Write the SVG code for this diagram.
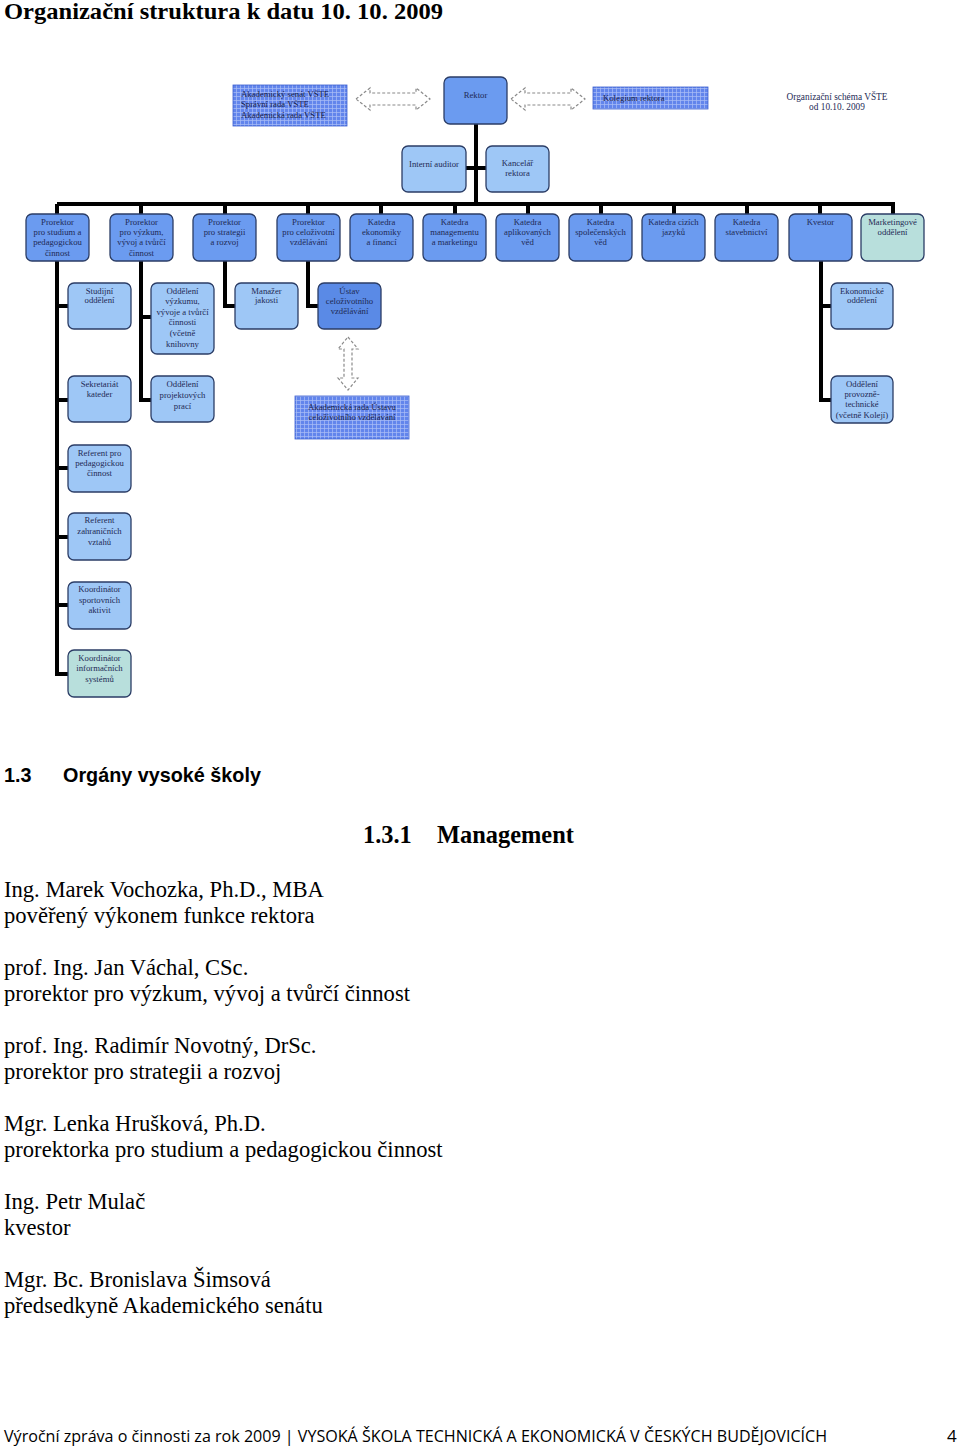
<svg xmlns="http://www.w3.org/2000/svg" width="960" height="1448" viewBox="0 0 960 1448">
<style>
.bg{fill:#ffffff}
.box{stroke:#2b3d66;stroke-width:1.3}
.b1{fill:#6b9bf0}
.b2{fill:#9ec7f6}
.b3{fill:#b8dfdc}
.b4{fill:#5a8ae6}
.grid{fill:url(#grid);stroke:#3c5fd0;stroke-width:0.8}
.t{font-family:"Liberation Serif","Times New Roman",serif;font-size:8.7px;fill:#1e2a55;text-anchor:middle}
.tl{font-family:"Liberation Serif","Times New Roman",serif;font-size:8.7px;fill:#16204a}
.con{stroke:#000;stroke-width:4;fill:none}
.dash{fill:#fff;stroke:#8a8a8a;stroke-width:1.2;stroke-dasharray:3 2}
.body{font-family:"Liberation Serif","Times New Roman",serif;font-size:22.6px;fill:#000}
.h1{font-family:"Liberation Serif","Times New Roman",serif;font-size:23px;font-weight:bold;fill:#000}
.h2{font-family:"Liberation Sans",Arial,sans-serif;font-size:19.8px;font-weight:bold;fill:#000}
.h3{font-family:"Liberation Serif","Times New Roman",serif;font-size:24.4px;font-weight:bold;fill:#000}
.foot{font-family:"Open Sans","Liberation Sans",sans-serif;font-size:17px;fill:#000}
</style>
<defs>
<pattern id="grid" width="4" height="4" patternUnits="userSpaceOnUse">
<rect width="4" height="4" fill="#6285ec"/>
<path d="M0,0.5 H4 M0.5,0 V4" stroke="#aabff7" stroke-width="0.7"/>
</pattern>
</defs>
<rect class="bg" x="0" y="0" width="960" height="1448"/>

<text class="h1" x="4" y="19" textLength="439" lengthAdjust="spacingAndGlyphs">Organizační struktura k datu 10. 10. 2009</text>

<g id="connectors">
<path class="con" d="M476,124 V204"/>
<path class="con" d="M466,168 H486"/>
<path class="con" d="M57,204 H895"/>
<path class="con" d="M57,204 V214 M141,204 V214 M225,204 V214 M308,204 V214 M381,204 V214 M455,204 V214 M528,204 V214 M601,204 V214 M674,204 V214 M747,204 V214 M820,204 V214 M893,204 V214"/>
<path class="con" d="M57,261 V674 H68 M57,306 H68 M57,400 H68 M57,468 H68 M57,537 H68 M57,605 H68"/>
<path class="con" d="M141,261 V400 H151 M141,317 H151"/>
<path class="con" d="M225,261 V306 H235"/>
<path class="con" d="M308,261 V306 H318"/>
<path class="con" d="M821,261 V400 H831 M821,306 H831"/>
<path class="dash" d="M356,99 L370,88 L370,93 L416,93 L416,88 L430,99 L416,110 L416,105 L370,105 L370,110 Z"/>
<path class="dash" d="M511,99 L525,88 L525,93 L571,93 L571,88 L585,99 L571,110 L571,105 L525,105 L525,110 Z"/>
<path class="dash" d="M348,337 L358,349 L352,349 L352,378 L358,378 L348,390 L338,378 L344,378 L344,349 L338,349 Z"/>
</g>

<g id="akademicky-senat">
<rect class="grid" x="233" y="85" width="114" height="41"/>
<text class="tl" x="241" y="97">Akademický senát VŠTE</text>
<text class="tl" x="241" y="107">Správní rada VŠTE</text>
<text class="tl" x="241" y="118">Akademická rada VŠTE</text>
</g>
<g id="rektor">
<rect class="box b1" x="444" y="77" width="63" height="47" rx="6"/>
<text class="t" x="475.5" y="98">Rektor</text>
</g>
<g id="kolegium">
<rect class="grid" x="593" y="87" width="115" height="22"/>
<text class="tl" x="603" y="101">Kolegium rektora</text>
</g>
<g id="schema-label">
<text class="t" x="837" y="100" style="font-size:9.3px">Organizační schéma VŠTE</text>
<text class="t" x="837" y="110" style="font-size:9.3px">od 10.10. 2009</text>
</g>
<g id="interni-auditor">
<rect class="box b2" x="402" y="146" width="64" height="46" rx="6"/>
<text class="t" x="434" y="167">Interní auditor</text>
</g>
<g id="kancelar">
<rect class="box b2" x="486" y="146" width="63" height="46" rx="6"/>
<text class="t" x="517.5" y="166">Kancelář</text>
<text class="t" x="517.5" y="176">rektora</text>
</g>

<g id="prorektor-studium">
<rect class="box b1" x="26" y="214" width="63" height="47" rx="6"/>
<text class="t" x="57.5" y="225">Prorektor</text>
<text class="t" x="57.5" y="235">pro studium a</text>
<text class="t" x="57.5" y="245">pedagogickou</text>
<text class="t" x="57.5" y="256">činnost</text>
</g>
<g id="prorektor-vyzkum">
<rect class="box b1" x="110" y="214" width="63" height="47" rx="6"/>
<text class="t" x="141.5" y="225">Prorektor</text>
<text class="t" x="141.5" y="235">pro výzkum,</text>
<text class="t" x="141.5" y="245">vývoj a tvůrčí</text>
<text class="t" x="141.5" y="256">činnost</text>
</g>
<g id="prorektor-strategie">
<rect class="box b1" x="193" y="214" width="63" height="47" rx="6"/>
<text class="t" x="224.5" y="225">Prorektor</text>
<text class="t" x="224.5" y="235">pro strategii</text>
<text class="t" x="224.5" y="245">a rozvoj</text>
</g>
<g id="prorektor-celozivotni">
<rect class="box b1" x="277" y="214" width="63" height="47" rx="6"/>
<text class="t" x="308.5" y="225">Prorektor</text>
<text class="t" x="308.5" y="235">pro celoživotní</text>
<text class="t" x="308.5" y="245">vzdělávání</text>
</g>
<g id="katedra-ekonomiky">
<rect class="box b1" x="350" y="214" width="63" height="47" rx="6"/>
<text class="t" x="381.5" y="225">Katedra</text>
<text class="t" x="381.5" y="235">ekonomiky</text>
<text class="t" x="381.5" y="245">a financí</text>
</g>
<g id="katedra-managementu">
<rect class="box b1" x="423" y="214" width="63" height="47" rx="6"/>
<text class="t" x="454.5" y="225">Katedra</text>
<text class="t" x="454.5" y="235">managementu</text>
<text class="t" x="454.5" y="245">a marketingu</text>
</g>
<g id="katedra-aplikovanych">
<rect class="box b1" x="496" y="214" width="63" height="47" rx="6"/>
<text class="t" x="527.5" y="225">Katedra</text>
<text class="t" x="527.5" y="235">aplikovaných</text>
<text class="t" x="527.5" y="245">věd</text>
</g>
<g id="katedra-spolecenskych">
<rect class="box b1" x="569" y="214" width="63" height="47" rx="6"/>
<text class="t" x="600.5" y="225">Katedra</text>
<text class="t" x="600.5" y="235">společenských</text>
<text class="t" x="600.5" y="245">věd</text>
</g>
<g id="katedra-jazyku">
<rect class="box b1" x="642" y="214" width="63" height="47" rx="6"/>
<text class="t" x="673.5" y="225">Katedra cizích</text>
<text class="t" x="673.5" y="235">jazyků</text>
</g>
<g id="katedra-stavebnictvi">
<rect class="box b1" x="715" y="214" width="63" height="47" rx="6"/>
<text class="t" x="746.5" y="225">Katedra</text>
<text class="t" x="746.5" y="235">stavebnictví</text>
</g>
<g id="kvestor">
<rect class="box b1" x="789" y="214" width="63" height="47" rx="6"/>
<text class="t" x="820.5" y="225">Kvestor</text>
</g>
<g id="marketingove">
<rect class="box b3" x="861" y="214" width="63" height="47" rx="6"/>
<text class="t" x="892.5" y="225">Marketingové</text>
<text class="t" x="892.5" y="235">oddělení</text>
</g>

<g id="studijni">
<rect class="box b2" x="68" y="283" width="63" height="46" rx="6"/>
<text class="t" x="99.5" y="294">Studijní</text>
<text class="t" x="99.5" y="303">oddělení</text>
</g>
<g id="sekretariat">
<rect class="box b2" x="68" y="376" width="63" height="46" rx="6"/>
<text class="t" x="99.5" y="387">Sekretariát</text>
<text class="t" x="99.5" y="397">kateder</text>
</g>
<g id="referent-pedagogicka">
<rect class="box b2" x="68" y="445" width="63" height="47" rx="6"/>
<text class="t" x="99.5" y="456">Referent pro</text>
<text class="t" x="99.5" y="466">pedagogickou</text>
<text class="t" x="99.5" y="476">činnost</text>
</g>
<g id="referent-zahranicni">
<rect class="box b2" x="68" y="513" width="63" height="47" rx="6"/>
<text class="t" x="99.5" y="523">Referent</text>
<text class="t" x="99.5" y="534">zahraničních</text>
<text class="t" x="99.5" y="545">vztahů</text>
</g>
<g id="koordinator-sport">
<rect class="box b2" x="68" y="582" width="63" height="47" rx="6"/>
<text class="t" x="99.5" y="592">Koordinátor</text>
<text class="t" x="99.5" y="603">sportovních</text>
<text class="t" x="99.5" y="613">aktivit</text>
</g>
<g id="koordinator-is">
<rect class="box b3" x="68" y="650" width="63" height="47" rx="6"/>
<text class="t" x="99.5" y="661">Koordinátor</text>
<text class="t" x="99.5" y="671">informačních</text>
<text class="t" x="99.5" y="682">systémů</text>
</g>
<g id="oddeleni-vyzkumu">
<rect class="box b2" x="151" y="283" width="63" height="71" rx="6"/>
<text class="t" x="182.5" y="294">Oddělení</text>
<text class="t" x="182.5" y="304">výzkumu,</text>
<text class="t" x="182.5" y="315">vývoje a tvůrčí</text>
<text class="t" x="182.5" y="325">činnosti</text>
<text class="t" x="182.5" y="336">(včetně</text>
<text class="t" x="182.5" y="347">knihovny</text>
</g>
<g id="oddeleni-projektovych">
<rect class="box b2" x="151" y="376" width="63" height="46" rx="6"/>
<text class="t" x="182.5" y="387">Oddělení</text>
<text class="t" x="182.5" y="398">projektových</text>
<text class="t" x="182.5" y="409">prací</text>
</g>
<g id="manazer-jakosti">
<rect class="box b2" x="235" y="283" width="63" height="46" rx="6"/>
<text class="t" x="266.5" y="294">Manažer</text>
<text class="t" x="266.5" y="303">jakosti</text>
</g>
<g id="ustav">
<rect class="box b4" x="318" y="283" width="63" height="46" rx="6"/>
<text class="t" x="349.5" y="294">Ústav</text>
<text class="t" x="349.5" y="304">celoživotního</text>
<text class="t" x="349.5" y="314">vzdělávání</text>
</g>
<g id="akademicka-rada-ustavu">
<rect class="grid" x="295" y="396" width="114" height="43"/>
<text class="t" x="352" y="410" style="fill:#16204a">Akademická rada Ústavu</text>
<text class="t" x="352" y="420" style="fill:#16204a">celoživotního vzdělávání</text>
</g>
<g id="ekonomicke">
<rect class="box b2" x="831" y="283" width="62" height="46" rx="6"/>
<text class="t" x="862" y="294">Ekonomické</text>
<text class="t" x="862" y="303">oddělení</text>
</g>
<g id="provozne-technicke">
<rect class="box b2" x="831" y="376" width="62" height="47" rx="6"/>
<text class="t" x="862" y="387">Oddělení</text>
<text class="t" x="862" y="397">provozně-</text>
<text class="t" x="862" y="407">technické</text>
<text class="t" x="862" y="418">(včetně Kolejí)</text>
</g>

<text class="h2" x="4" y="782">1.3</text>
<text class="h2" x="63" y="782">Orgány vysoké školy</text>
<text class="h3" x="363" y="843">1.3.1</text>
<text class="h3" x="437" y="843">Management</text>

<text class="body" x="4" y="897">Ing. Marek Vochozka, Ph.D., MBA</text>
<text class="body" x="4" y="923">pověřený výkonem funkce rektora</text>
<text class="body" x="4" y="975">prof. Ing. Jan Váchal, CSc.</text>
<text class="body" x="4" y="1001">prorektor pro výzkum, vývoj a tvůrčí činnost</text>
<text class="body" x="4" y="1053">prof. Ing. Radimír Novotný, DrSc.</text>
<text class="body" x="4" y="1079">prorektor pro strategii a rozvoj</text>
<text class="body" x="4" y="1131">Mgr. Lenka Hrušková, Ph.D.</text>
<text class="body" x="4" y="1157">prorektorka pro studium a pedagogickou činnost</text>
<text class="body" x="4" y="1209">Ing. Petr Mulač</text>
<text class="body" x="4" y="1235">kvestor</text>
<text class="body" x="4" y="1287">Mgr. Bc. Bronislava Šimsová</text>
<text class="body" x="4" y="1313">předsedkyně Akademického senátu</text>

<text class="foot" x="4" y="1442" textLength="823" lengthAdjust="spacingAndGlyphs">Výroční zpráva o činnosti za rok 2009 | VYSOKÁ ŠKOLA TECHNICKÁ A EKONOMICKÁ V ČESKÝCH BUDĚJOVICÍCH</text>
<text class="foot" x="947" y="1442">4</text>
</svg>
